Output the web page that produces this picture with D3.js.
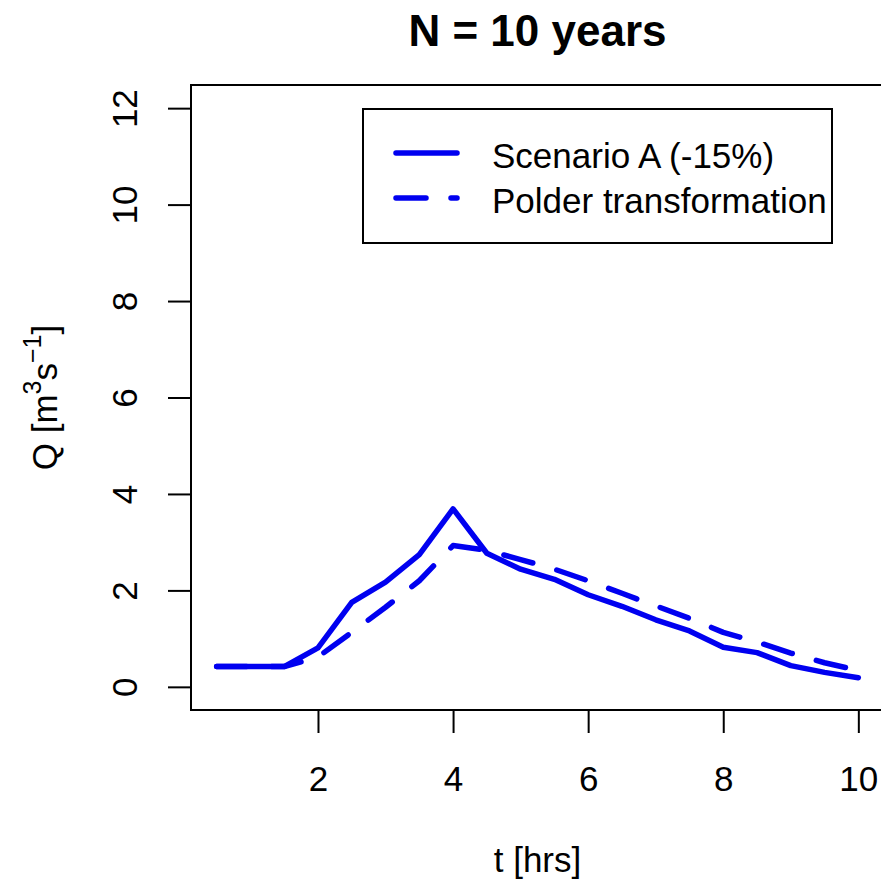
<!DOCTYPE html>
<html>
<head>
<meta charset="utf-8">
<script src="https://cdn.jsdelivr.net/npm/d3@7"></script>
<style>
  body { margin: 0; background: #fff; }
  text { font-family: "Liberation Sans", Arial, Helvetica, sans-serif; }
</style>
</head>
<body>
<svg id="chart" width="881" height="887"></svg>
<script>
const hours = [0.5, 1, 1.5, 2, 2.5, 3, 3.5, 4, 4.5, 5, 5.5, 6, 6.5, 7, 7.5, 8, 8.5, 9, 9.5, 10];
const scenarioA = [0.42, 0.42, 0.42, 0.81, 1.75, 2.17, 2.74, 3.69, 2.77, 2.44, 2.23, 1.91, 1.67, 1.39, 1.16, 0.82, 0.71, 0.44, 0.30, 0.19];
const polder = [0.42, 0.42, 0.42, 0.62, 1.13, 1.65, 2.2, 2.93, 2.83, 2.64, 2.44, 2.2, 1.94, 1.68, 1.42, 1.13, 0.93, 0.70, 0.50, 0.34];
const xTicks = [2, 4, 6, 8, 10];
const yTicks = [0, 2, 4, 6, 8, 10, 12];
const seriesNames = ["Scenario A (-15%)", "Polder transformation"];

const blue = "#0000f0";
const dash = "30,25";

const svg = d3.select("#chart");

// plot region (R style, 4% padding on each axis)
const pLeft = 191, pRight = 884, pTop = 85, pBottom = 710;
const xPad = (d3.max(hours) - d3.min(hours)) * 0.04;
const x = d3.scaleLinear()
    .domain([d3.min(hours) - xPad, d3.max(hours) + xPad])
    .range([pLeft, pRight]);
const y = d3.scaleLinear()
    .domain([0 - 12 * 0.04, 12 + 12 * 0.04])
    .range([pBottom, pTop]);

// axes
const xAxis = svg.append("g")
    .attr("transform", `translate(0,${pBottom})`)
    .call(d3.axisBottom(x).tickValues(xTicks).tickSize(23).tickSizeOuter(0));
const yAxis = svg.append("g")
    .attr("transform", `translate(${pLeft},0)`)
    .call(d3.axisLeft(y).tickValues(yTicks).tickSize(23).tickSizeOuter(0));

[xAxis, yAxis].forEach(g => {
    g.select(".domain").remove();
    g.selectAll(".tick line").attr("stroke", "#000").attr("stroke-width", 2);
});
xAxis.selectAll(".tick text")
    .attr("font-size", 35)
    .attr("fill", "#000")
    .attr("dy", null)
    .attr("y", 81)
    .attr("font-family", "Liberation Sans, Arial, sans-serif");
yAxis.selectAll(".tick text")
    .attr("font-size", 35)
    .attr("fill", "#000")
    .attr("x", null).attr("dy", null)
    .attr("text-anchor", "middle")
    .attr("transform", "translate(-54,0) rotate(-90)")
    .attr("font-family", "Liberation Sans, Arial, sans-serif");

// lines
const line = vals => d3.line()
    .x((d, i) => x(hours[i]))
    .y(d => y(d))(vals);

svg.append("path")
    .attr("d", line(polder))
    .attr("fill", "none")
    .attr("stroke", blue)
    .attr("stroke-width", 5.5)
    .attr("stroke-dasharray", dash)
    .attr("stroke-linecap", "round")
    .attr("stroke-linejoin", "round");

svg.append("path")
    .attr("d", line(scenarioA))
    .attr("fill", "none")
    .attr("stroke", blue)
    .attr("stroke-width", 5.5)
    .attr("stroke-linecap", "round")
    .attr("stroke-linejoin", "round");

// box
svg.append("rect")
    .attr("x", pLeft).attr("y", pTop)
    .attr("width", pRight - pLeft).attr("height", pBottom - pTop)
    .attr("fill", "none").attr("stroke", "#000").attr("stroke-width", 2);

// legend
const leg = svg.append("g");
leg.append("rect")
    .attr("x", 363).attr("y", 109)
    .attr("width", 469).attr("height", 134)
    .attr("fill", "#fff").attr("stroke", "#000").attr("stroke-width", 2);
seriesNames.forEach((name, i) => {
    const ly = 153 + i * 45;
    leg.append("line")
        .attr("x1", 396).attr("x2", 457)
        .attr("y1", ly).attr("y2", ly)
        .attr("stroke", blue).attr("stroke-width", 5.5)
        .attr("stroke-linecap", "round")
        .attr("stroke-dasharray", i === 1 ? dash : null);
    leg.append("text")
        .attr("x", 492).attr("y", ly + 15)
        .attr("font-size", 35)
        .attr("fill", "#000")
        .text(name);
});

// title
svg.append("text")
    .attr("x", (pLeft + pRight) / 2).attr("y", 46)
    .attr("text-anchor", "middle")
    .attr("font-size", 44)
    .attr("font-weight", "bold")
    .text("N = 10 years");

// axis titles
svg.append("text")
    .attr("x", (pLeft + pRight) / 2).attr("y", 872)
    .attr("text-anchor", "middle")
    .attr("font-size", 35)
    .text("t [hrs]");

const yl = svg.append("text")
    .attr("transform", `translate(57,${(pTop + pBottom) / 2}) rotate(-90)`)
    .attr("text-anchor", "middle")
    .attr("font-size", 35);
yl.append("tspan").text("Q [m");
yl.append("tspan").attr("font-size", 25).attr("dy", -16).text("3");
yl.append("tspan").attr("dy", 16).text("s");
yl.append("tspan").attr("font-size", 25).attr("dy", -16).text("\u22121");
yl.append("tspan").attr("dy", 16).text("]");
</script>
</body>
</html>
